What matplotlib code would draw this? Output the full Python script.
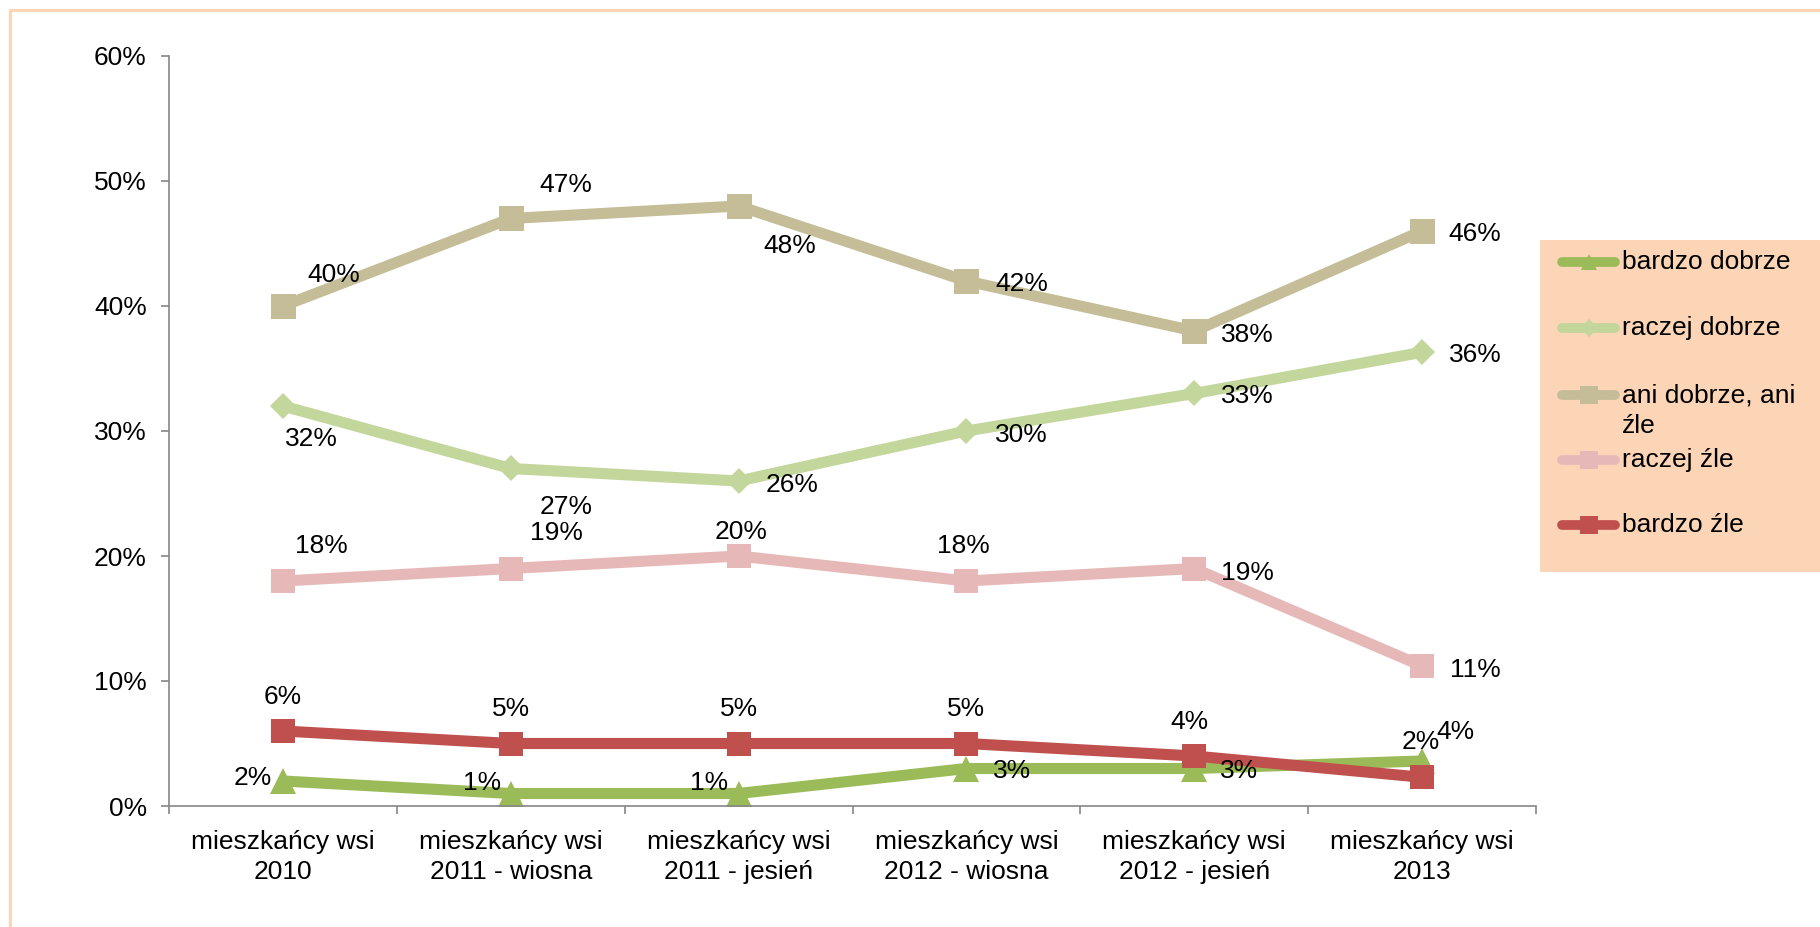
import matplotlib
matplotlib.use("Agg")
import matplotlib.pyplot as plt
from matplotlib.lines import Line2D
from matplotlib.patches import Rectangle
from matplotlib.ticker import FuncFormatter, FixedLocator

plt.rcParams['font.family'] = ['Liberation Sans', 'DejaVu Sans']

# ---- data ----
categories = ["mieszkańcy wsi\n2010", "mieszkańcy wsi\n2011 - wiosna", "mieszkańcy wsi\n2011 - jesień",
              "mieszkańcy wsi\n2012 - wiosna", "mieszkańcy wsi\n2012 - jesień", "mieszkańcy wsi\n2013"]
series_names = ["bardzo dobrze", "raczej dobrze", "ani dobrze, ani\nźle", "raczej źle", "bardzo źle"]
bardzo_dobrze = [2, 1, 1, 3, 3, 3.6]
raczej_dobrze = [32, 27, 26, 30, 33, 36.3]
ani_ani = [40, 47, 48, 42, 38, 46]
raczej_zle = [18, 19, 20, 18, 19, 11.2]
bardzo_zle = [6, 5, 5, 5, 4, 2.3]
y_ticks = [0, 10, 20, 30, 40, 50, 60]

series_values = [bardzo_dobrze, raczej_dobrze, ani_ani, raczej_zle, bardzo_zle]

# ---- style ----
colors = ["#9BBB59", "#C3D69B", "#C4BD97", "#E6B9B8", "#C0504D"]
markers = ["^", "D", "s", "s", "s"]
msizes = [19, 13.5, 18, 17.5, 17.5]
FS = 19
# label offsets in pixels (dx, dy) per series per point
offsets = [
    [(-30, 6), (-29, 14), (-30, 14), (46, 0), (45, 0), (33, 32)],
    [(29, -30), (55, -36), (53, -1), (55, -1), (53, 0), (53, 0)],
    [(51, 34), (55, 36), (51, -37), (55, 0), (53, -1), (53, 0)],
    [(38, 38), (46, 38), (2, 27), (-3, 38), (53, -1), (53, -1)],
    [(0, 37), (0, 37), (0, 37), (0, 37), (-5, 37), (-1, 38)],
]

W, H = 1820, 927
fig = plt.figure(figsize=(W / 100, H / 100), dpi=100)
fig.patch.set_facecolor("white")

# outer border
fig.add_artist(Rectangle((10 / W, -0.1), 1.2, 1 - 10 / H + 0.1, transform=fig.transFigure,
                         fill=False, edgecolor="#FCD5B4", linewidth=2.2))

ax = fig.add_axes([169 / W, 1 - 806 / H, (1536 - 169) / W, (806 - 56) / H])
ax.set_facecolor("none")

x = [i + 0.5 for i in range(len(categories))]
for vals, c, m, ms in zip(series_values, colors, markers, msizes):
    ax.plot(x, vals, color=c, lw=8, marker=m, markersize=ms, markeredgewidth=0,
            solid_capstyle="round", solid_joinstyle="round", clip_on=False)

for vals, offs in zip(series_values, offsets):
    for xi, v, (dx, dy) in zip(x, vals, offs):
        ax.annotate(f"{round(v)}%", (xi, v), xytext=(dx, dy - 3), textcoords="offset pixels",
                    ha="center", va="center", fontsize=FS, color="black", zorder=10,
                    annotation_clip=False)

ax.set_xlim(0, len(categories))
ax.set_ylim(0, 60)
ax.yaxis.set_major_locator(FixedLocator(y_ticks))
ax.yaxis.set_major_formatter(FuncFormatter(lambda v, _: f"{v:.0f}%"))
ax.xaxis.set_major_locator(FixedLocator(list(range(len(categories) + 1))))
ax.xaxis.set_minor_locator(FixedLocator(x))
ax.set_xticklabels([])
ax.set_xticklabels(categories, minor=True)

for s in ["top", "right"]:
    ax.spines[s].set_visible(False)
for s in ["left", "bottom"]:
    ax.spines[s].set_color("#868686")
    ax.spines[s].set_linewidth(1.2)

ax.tick_params(axis="y", which="major", length=6, width=1.2, color="#868686", pad=10,
               labelsize=FS, labelcolor="black")
ax.tick_params(axis="x", which="major", length=6, width=1.2, color="#868686")
ax.tick_params(axis="x", which="minor", length=0, pad=17, labelsize=FS, labelcolor="black")
for lbl in ax.get_xticklabels(minor=True):
    lbl.set_linespacing(1.35)

# legend box (manual)
fig.add_artist(Rectangle((1540 / W, 1 - 572 / H), 0.2, (572 - 240) / H, transform=fig.transFigure,
                         facecolor="#FBD5B5", edgecolor="none"))
row_y = [262, 328, 395, 460, 525]
leg_ms = [12, 9.5, 12.5, 12.5, 12.5]
for name, c, m, ms, yy in zip(series_names, colors, markers, leg_ms, row_y):
    yf = 1 - yy / H
    fig.add_artist(Line2D([1562 / W, 1615 / W], [yf, yf], transform=fig.transFigure,
                          color=c, lw=7, solid_capstyle="round"))
    fig.add_artist(Line2D([1588.5 / W], [yf], transform=fig.transFigure,
                          color=c, marker=m, markersize=ms, markeredgewidth=0, lw=0))
    fig.text(1622 / W, 1 - (yy - 12) / H, name, ha="left", va="top", fontsize=FS,
             color="black", linespacing=1.35)

fig.savefig("out.png", dpi=100)
